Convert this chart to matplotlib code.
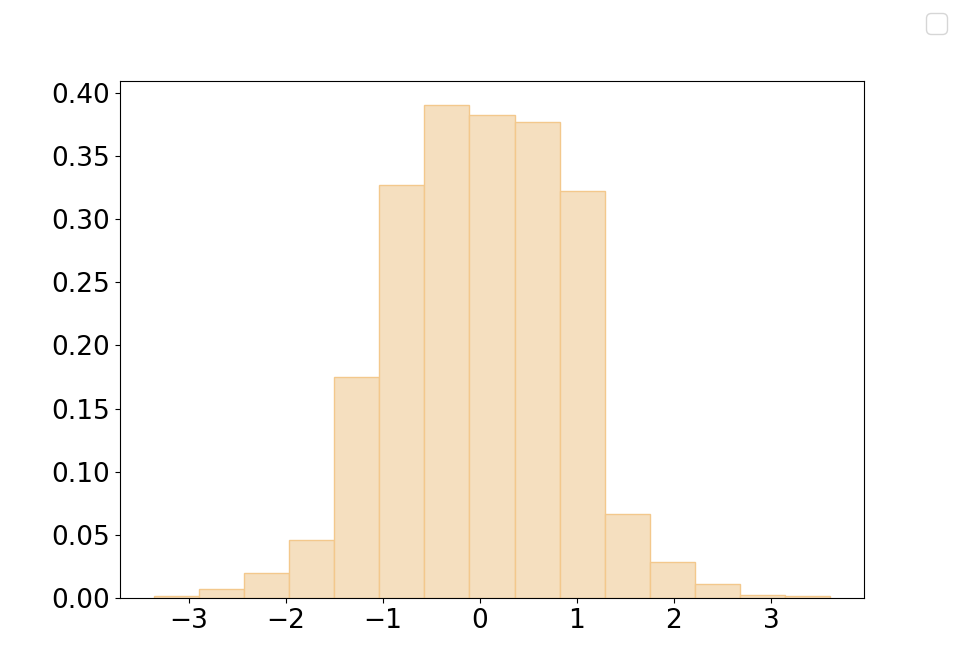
import matplotlib
matplotlib.use("Agg")
import matplotlib.pyplot as plt
import numpy as np

# Bin edges and densities
bin_edges = np.linspace(-3.36, 3.61, 16)
densities = [0.0015, 0.007, 0.020, 0.046, 0.175, 0.327, 0.390, 0.382,
             0.377, 0.322, 0.0665, 0.0285, 0.011, 0.0025, 0.0015]

plt.rcParams["font.size"] = 19

fig, ax = plt.subplots(figsize=(9.6, 6.72), dpi=100)

centers = (bin_edges[:-1] + bin_edges[1:]) / 2
ax.hist(centers, bins=bin_edges, weights=densities,
        facecolor="#f5dfbf", edgecolor="#f3c88c", linewidth=1)

ax.set_xticks([-3, -2, -1, 0, 1, 2, 3])

fig.legend(handles=[], labels=[], loc="upper right")

fig.savefig("out.png", dpi=100)
